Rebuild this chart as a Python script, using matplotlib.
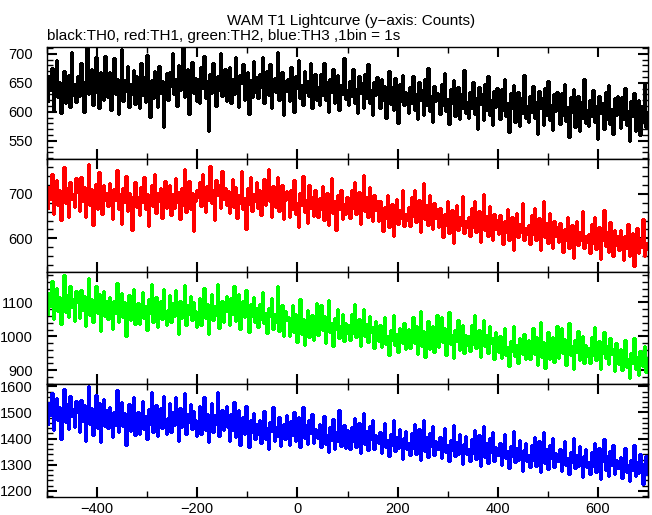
import numpy as np
import matplotlib.pyplot as plt
from matplotlib.ticker import MultipleLocator

plt.rcParams['font.family'] = ['Liberation Sans', 'DejaVu Sans']

# counts per bin, 3 s bins starting at -500 s (one row = 60 s)
th0 = [618, 661, 637, 675, 603, 649, 690, 626, 652, 598, 644, 671, 615, 636, 663, 609, 704, 629, 648, 617,
       662, 627, 685, 641, 599, 653, 711, 630, 647, 673, 612, 658, 694, 633, 606, 669, 642, 621, 697, 650,
       625, 668, 604, 650, 692, 631, 657, 596, 643, 709, 619, 655, 636, 679, 608, 648, 630, 672, 614, 661,
       652, 606, 684, 629, 660, 617, 698, 639, 591, 655, 624, 670, 642, 609, 679, 632, 654, 574, 645, 667,
       621, 668, 645, 702, 630, 657, 610, 680, 638, 663, 712, 626, 649, 673, 597, 644, 686, 633, 658, 619,
       657, 616, 678, 641, 696, 624, 653, 567, 666, 632, 684, 645, 610, 661, 638, 701, 627, 649, 673, 618,
       645, 678, 616, 657, 631, 694, 638, 609, 664, 650, 683, 621, 642, 669, 597, 655, 626, 687, 634, 660,
       624, 665, 643, 694, 616, 650, 671, 629, 682, 607, 646, 659, 634, 703, 620, 641, 668, 595, 654, 636,
       656, 618, 677, 633, 600, 662, 641, 689, 624, 647, 612, 670, 635, 653, 627, 684, 606, 642, 665, 621,
       643, 612, 666, 629, 685, 620, 651, 599, 657, 635, 674, 616, 641, 663, 604, 647, 630, 692, 622, 638,
       611, 654, 627, 673, 616, 640, 598, 661, 632, 649, 606, 666, 623, 682, 615, 637, 595, 652, 629, 660,
       637, 607, 656, 621, 644, 590, 631, 670, 613, 642, 604, 659, 626, 581, 648, 619, 664, 611, 635, 622,
       598, 643, 615, 662, 604, 630, 587, 651, 620, 638, 595, 656, 612, 675, 601, 627, 583, 644, 618, 633,
       629, 596, 648, 612, 667, 601, 622, 579, 640, 615, 655, 593, 620, 643, 588, 631, 607, 672, 598, 617,
       590, 635, 606, 651, 597, 624, 571, 643, 613, 630, 586, 648, 603, 662, 594, 620, 577, 636, 609, 641,
       621, 588, 640, 603, 656, 592, 615, 566, 632, 607, 646, 583, 612, 635, 575, 624, 598, 664, 589, 610,
       583, 628, 599, 645, 589, 617, 561, 636, 606, 623, 577, 641, 595, 654, 586, 612, 568, 630, 601, 634,
       614, 579, 633, 595, 648, 584, 608, 557, 625, 600, 639, 574, 604, 628, 567, 617, 590, 657, 581, 603,
       576, 621, 592, 637, 582, 610, 553, 628, 598, 616, 570, 634, 588, 646, 579, 605, 561, 623, 594, 627,
       608, 572, 626, 588, 641, 577, 601, 549, 618, 593, 632, 567, 597, 621, 560, 610, 583, 650, 574, 596]

th1 = [668, 716, 688, 745, 655, 703, 731, 674, 709, 642, 694, 761, 679, 713, 649, 726, 688, 701, 670, 735,
       705, 662, 739, 684, 716, 648, 696, 768, 676, 711, 630, 692, 723, 667, 750, 698, 654, 721, 686, 703,
       673, 725, 692, 644, 711, 686, 754, 667, 699, 633, 714, 682, 740, 661, 703, 677, 618, 696, 728, 670,
       694, 652, 716, 681, 739, 665, 700, 628, 688, 721, 673, 746, 657, 703, 684, 713, 646, 692, 729, 668,
       687, 720, 652, 699, 668, 736, 681, 705, 643, 714, 676, 757, 659, 692, 729, 665, 702, 616, 683, 710,
       693, 727, 672, 745, 701, 659, 718, 686, 763, 679, 710, 641, 732, 697, 721, 668, 751, 688, 714, 675,
       707, 656, 692, 734, 671, 715, 645, 698, 679, 751, 666, 690, 622, 713, 677, 739, 661, 700, 684, 726,
       668, 709, 653, 693, 734, 675, 702, 756, 683, 649, 718, 690, 671, 739, 662, 700, 721, 644, 686, 707,
       688, 647, 710, 666, 731, 655, 679, 625, 702, 674, 741, 659, 686, 634, 721, 668, 693, 651, 708, 677,
       649, 690, 667, 718, 642, 679, 703, 631, 672, 735, 656, 684, 619, 697, 665, 710, 644, 678, 655, 693,
       689, 646, 710, 668, 727, 655, 682, 704, 633, 676, 742, 661, 693, 648, 715, 670, 638, 697, 663, 684,
       640, 684, 653, 617, 670, 645, 698, 626, 659, 678, 604, 652, 689, 633, 664, 646, 710, 627, 655, 641,
       671, 628, 693, 650, 709, 637, 664, 686, 615, 658, 724, 643, 675, 630, 697, 652, 620, 679, 645, 666,
       625, 669, 638, 602, 655, 630, 683, 611, 644, 663, 589, 637, 674, 618, 649, 631, 695, 612, 640, 626,
       647, 604, 669, 626, 685, 613, 640, 662, 591, 634, 700, 619, 651, 606, 673, 628, 596, 655, 621, 642,
       609, 653, 622, 586, 639, 614, 667, 595, 628, 647, 573, 621, 658, 602, 633, 615, 679, 596, 624, 610,
       630, 587, 652, 609, 668, 596, 623, 645, 574, 617, 683, 602, 634, 589, 656, 611, 579, 638, 604, 625,
       591, 635, 604, 568, 621, 596, 649, 577, 610, 629, 555, 603, 640, 584, 615, 597, 661, 578, 606, 592,
       610, 567, 632, 589, 648, 576, 603, 625, 554, 597, 663, 582, 614, 569, 636, 591, 559, 618, 584, 605,
       574, 618, 587, 551, 604, 579, 632, 560, 593, 612, 538, 586, 623, 567, 598, 580, 644, 561, 589, 575]

th2 = [1066, 1129, 1090, 1163, 1051, 1106, 1142, 1075, 1117, 1036, 1098, 1181, 1071, 1123, 1057, 1148, 1086, 1111, 1045, 1134,
       1101, 1054, 1138, 1077, 1119, 1030, 1093, 1171, 1064, 1109, 1042, 1085, 1147, 1068, 1126, 1015, 1096, 1133, 1060, 1104,
       1051, 1115, 1080, 1023, 1103, 1068, 1156, 1042, 1089, 1127, 1057, 1100, 1000, 1074, 1122, 1049, 1085, 1141, 1036, 1078,
       1098, 1037, 1076, 1132, 1054, 1089, 1019, 1111, 1068, 1153, 1042, 1080, 1116, 1027, 1063, 1104, 1050, 1141, 1073, 1032,
       1078, 1122, 1041, 1097, 1060, 1138, 1073, 1007, 1105, 1054, 1087, 1150, 1032, 1091, 1066, 1119, 1048, 1100, 1075, 1027,
       1069, 1113, 1032, 1087, 1142, 1054, 1096, 1008, 1078, 1125, 1047, 1090, 1063, 1154, 1026, 1081, 1105, 1042, 1074, 1119,
       1076, 1034, 1112, 1067, 1148, 1046, 1091, 1125, 1023, 1080, 1104, 1056, 1136, 1073, 1013, 1094, 1059, 1117, 1041, 1083,
       1027, 1096, 1052, 1131, 1038, 1070, 1009, 1084, 1061, 1113, 1023, 1067, 1042, 1148, 1016, 1056, 1092, 1001, 1075, 1047,
       1056, 1001, 1040, 1092, 1014, 1065, 982, 1031, 1109, 1007, 1050, 974, 1024, 1079, 999, 1041, 1064, 990, 1019, 1098,
       1004, 1047, 1091, 1018, 1060, 981, 1031, 1106, 1013, 1038, 972, 1055, 1021, 1082, 996, 1029, 1067, 987, 1040, 1010,
       1033, 988, 1065, 1010, 1094, 997, 1024, 1052, 971, 1016, 1080, 1002, 1037, 984, 1061, 1013, 1028, 965, 1045, 1006,
       985, 1032, 968, 1009, 1056, 977, 1000, 945, 1018, 989, 1063, 973, 1007, 954, 1026, 992, 979, 1039, 964, 1003,
       1021, 966, 1005, 1057, 979, 1030, 947, 996, 1074, 972, 1015, 939, 989, 1044, 964, 1006, 1029, 955, 984, 1063,
       969, 1012, 1056, 983, 1025, 946, 996, 1071, 978, 1003, 937, 1020, 986, 1047, 961, 994, 1032, 952, 1005, 975,
       1001, 956, 1033, 978, 1062, 965, 992, 1020, 939, 984, 1048, 970, 1005, 952, 1029, 981, 996, 933, 1013, 974,
       953, 1000, 936, 977, 1024, 945, 968, 913, 986, 957, 1031, 941, 975, 922, 994, 960, 947, 1007, 932, 971,
       989, 934, 973, 1025, 947, 998, 915, 964, 1042, 940, 983, 907, 957, 1012, 932, 974, 997, 923, 952, 1031,
       937, 980, 1024, 951, 993, 914, 964, 1039, 946, 971, 905, 988, 954, 1015, 929, 962, 1000, 920, 973, 943,
       967, 922, 999, 944, 1028, 931, 958, 986, 905, 950, 1014, 936, 971, 918, 995, 947, 962, 899, 979, 940,
       917, 964, 900, 941, 988, 909, 932, 877, 950, 921, 995, 905, 939, 886, 958, 924, 911, 971, 896, 935]

th3 = [1457, 1536, 1491, 1573, 1432, 1508, 1554, 1473, 1520, 1397, 1499, 1588, 1464, 1531, 1438, 1562, 1486, 1513, 1446, 1542,
       1503, 1424, 1549, 1468, 1527, 1391, 1494, 1602, 1456, 1518, 1413, 1480, 1565, 1442, 1535, 1386, 1497, 1553, 1449, 1509,
       1439, 1522, 1477, 1408, 1503, 1451, 1584, 1426, 1488, 1541, 1447, 1496, 1375, 1469, 1533, 1431, 1480, 1558, 1414, 1473,
       1500, 1416, 1471, 1542, 1437, 1488, 1400, 1513, 1456, 1580, 1425, 1476, 1529, 1409, 1461, 1518, 1442, 1563, 1470, 1418,
       1479, 1535, 1426, 1500, 1453, 1559, 1471, 1389, 1516, 1445, 1489, 1574, 1417, 1494, 1462, 1531, 1437, 1505, 1470, 1410,
       1469, 1524, 1417, 1482, 1559, 1433, 1494, 1388, 1472, 1537, 1425, 1489, 1456, 1578, 1411, 1478, 1510, 1434, 1466, 1523,
       1444, 1389, 1493, 1432, 1540, 1405, 1463, 1509, 1376, 1450, 1481, 1418, 1525, 1439, 1367, 1470, 1424, 1497, 1400, 1456,
       1418, 1472, 1385, 1450, 1506, 1399, 1439, 1361, 1463, 1428, 1520, 1390, 1446, 1409, 1482, 1372, 1435, 1457, 1397, 1491,
       1424, 1375, 1467, 1413, 1500, 1389, 1446, 1484, 1367, 1432, 1519, 1401, 1453, 1378, 1471, 1420, 1495, 1384, 1438, 1409,
       1402, 1456, 1368, 1429, 1487, 1381, 1415, 1349, 1443, 1396, 1474, 1360, 1424, 1392, 1511, 1373, 1410, 1451, 1365, 1433,
       1407, 1362, 1445, 1391, 1479, 1368, 1423, 1461, 1344, 1410, 1496, 1378, 1430, 1355, 1448, 1397, 1472, 1361, 1415, 1386,
       1382, 1427, 1345, 1404, 1460, 1369, 1395, 1333, 1416, 1377, 1472, 1354, 1407, 1363, 1438, 1384, 1322, 1401, 1429, 1360,
       1382, 1337, 1420, 1366, 1454, 1343, 1398, 1436, 1319, 1385, 1471, 1353, 1405, 1330, 1423, 1372, 1447, 1336, 1390, 1361,
       1362, 1407, 1325, 1384, 1440, 1349, 1375, 1313, 1396, 1357, 1452, 1334, 1387, 1343, 1418, 1364, 1302, 1381, 1409, 1340,
       1360, 1315, 1398, 1344, 1432, 1321, 1376, 1414, 1297, 1363, 1449, 1331, 1383, 1308, 1401, 1350, 1425, 1314, 1368, 1339,
       1338, 1383, 1301, 1360, 1416, 1325, 1351, 1289, 1372, 1333, 1428, 1310, 1363, 1319, 1394, 1340, 1278, 1357, 1385, 1316,
       1336, 1291, 1374, 1320, 1408, 1297, 1352, 1390, 1273, 1339, 1425, 1307, 1359, 1284, 1377, 1326, 1401, 1290, 1344, 1315,
       1314, 1359, 1277, 1336, 1392, 1301, 1327, 1265, 1348, 1309, 1404, 1286, 1339, 1295, 1370, 1316, 1254, 1333, 1361, 1292,
       1310, 1265, 1348, 1294, 1382, 1271, 1326, 1364, 1247, 1313, 1399, 1281, 1333, 1258, 1351, 1300, 1375, 1264, 1318, 1289,
       1286, 1331, 1249, 1308, 1364, 1273, 1299, 1237, 1320, 1281, 1376, 1258, 1311, 1267, 1342, 1288, 1226, 1305, 1333, 1264]

t = np.arange(-500, 700, 3) + 1.5

series = [th0, th1, th2, th3]
colors = ['black', '#ff0000', '#00ff00', '#0000ff']
ylims = [(518, 712), (524, 778), (858, 1190), (1177, 1607)]
ymajor = [50, 100, 100, 100]
yminor = [10, 20, 20, 20]

fig, axes = plt.subplots(4, 1, figsize=(6.52, 5.15), dpi=100, sharex=True)
fig.subplots_adjust(left=0.072, right=0.994, top=0.909, bottom=0.035, hspace=0)

for ax, y, c, yl, mj, mn in zip(axes, series, colors, ylims, ymajor, yminor):
    ax.plot(t, y, color=c, lw=1.0, drawstyle='steps-mid', antialiased=False)
    ax.set_xlim(-500, 700)
    ax.set_ylim(*yl)
    ax.xaxis.set_major_locator(MultipleLocator(200))
    ax.xaxis.set_minor_locator(MultipleLocator(100))
    ax.yaxis.set_major_locator(MultipleLocator(mj))
    ax.yaxis.set_minor_locator(MultipleLocator(mn))
    ax.tick_params(which='both', direction='in', top=True, right=True, labelsize=10.5)
    ax.tick_params(axis='y', pad=10)
    ax.tick_params(which='major', length=7, width=1.5)
    ax.tick_params(which='minor', length=4, width=1.0)
    for s in ax.spines.values():
        s.set_linewidth(1.0)

fig.text(0.538, 0.959, 'WAM T1 Lightcurve (y\u2212axis: Counts)', ha='center', va='center', fontsize=11)
fig.text(0.072, 0.930, 'black:TH0, red:TH1, green:TH2, blue:TH3 ,1bin = 1s', ha='left', va='center', fontsize=11)

fig.savefig('out.png', dpi=100)
